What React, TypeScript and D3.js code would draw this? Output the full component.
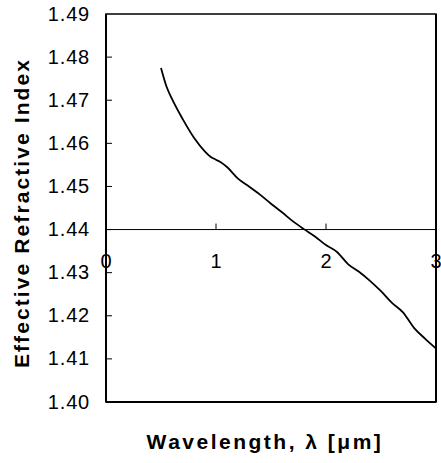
import React from "react";
import * as d3 from "d3";

// Wavelength (µm) and effective refractive index of the guided mode
const wavelength = [0.5, 0.55, 0.6, 0.7, 0.8, 0.9, 0.95, 1.0, 1.05, 1.1, 1.2, 1.3, 1.4, 1.5, 1.6, 1.7, 1.8, 1.9, 2.0, 2.1, 2.2, 2.3, 2.4, 2.5, 2.6, 2.7, 2.8, 2.9, 3.0];
const neff = [1.4775, 1.4732, 1.4703, 1.4655, 1.4613, 1.4581, 1.4569, 1.4562, 1.4555, 1.4545, 1.4518, 1.45, 1.4481, 1.446, 1.444, 1.4419, 1.4401, 1.4384, 1.4364, 1.4348, 1.432, 1.4302, 1.4281, 1.4257, 1.423, 1.4208, 1.4172, 1.4147, 1.4124];

const yTicks = [1.4, 1.41, 1.42, 1.43, 1.44, 1.45, 1.46, 1.47, 1.48, 1.49];
const xTicks = [0, 1, 2, 3];
const xCross = 1.44;

const W = 441;
const H = 463;
const left = 106;
const right = 436;
const top = 14;
const bottom = 402;
const font = "'Liberation Sans', Arial, sans-serif";

export default function App() {
  const x = d3.scaleLinear().domain([0, 3]).range([left, right]);
  const y = d3.scaleLinear().domain([1.4, 1.49]).range([bottom, top]);
  const line = d3
    .line<number>()
    .x((_, i) => x(wavelength[i]))
    .y((d) => y(d))
    .curve(d3.curveMonotoneX);
  const axisY = y(xCross);

  return (
    <svg
      width={W}
      height={H}
      style={{ position: "absolute", left: 0, top: 0, background: "#fff" }}
    >
      {/* plot frame */}
      <rect x={left} y={top} width={right - left} height={bottom - top} fill="none" stroke="#000" strokeWidth={1.5} />
      <line x1={left} x2={left} y1={top} y2={bottom} stroke="#000" strokeWidth={2} />
      <line x1={left} x2={right} y1={bottom} y2={bottom} stroke="#000" strokeWidth={2} />
      <line x1={right} x2={right} y1={top} y2={bottom} stroke="#000" strokeWidth={2} />

      {/* y ticks and labels */}
      {yTicks.map((t) => (
        <g key={t}>
          {t > 1.4 && t < 1.49 && (
            <line x1={left} x2={left + 6} y1={y(t)} y2={y(t)} stroke="#000" strokeWidth={1} />
          )}
          <text x={90} y={y(t) + 6.5} textAnchor="end" fontFamily={font} fontSize={20} letterSpacing={0.8} fill="#000">
            {t.toFixed(2)}
          </text>
        </g>
      ))}

      {/* horizontal x axis crossing at n = 1.44 */}
      <line x1={left} x2={right} y1={axisY} y2={axisY} stroke="#000" strokeWidth={1} />
      {xTicks.map((t) => (
        <g key={t}>
          {t > 0 && t < 3 && (
            <line x1={x(t)} x2={x(t)} y1={axisY} y2={axisY - 6} stroke="#000" strokeWidth={1} />
          )}
          <text x={x(t)} y={axisY + 38.5} textAnchor="middle" fontFamily={font} fontSize={20} fill="#000">
            {t}
          </text>
        </g>
      ))}

      {/* dispersion curve */}
      <path d={line(neff) || ""} fill="none" stroke="#000" strokeWidth={1.8} />

      {/* axis titles */}
      <text
        x={265}
        y={449}
        textAnchor="middle"
        fontFamily={font}
        fontSize={21}
        fontWeight="bold"
        letterSpacing={2.5}
        fill="#000"
      >
        Wavelength, λ [μm]
      </text>
      <text
        transform={`translate(29, 213) rotate(-90)`}
        textAnchor="middle"
        fontFamily={font}
        fontSize={21}
        fontWeight="bold"
        letterSpacing={2.1}
        fill="#000"
      >
        Effective Refractive Index
      </text>
    </svg>
  );
}
